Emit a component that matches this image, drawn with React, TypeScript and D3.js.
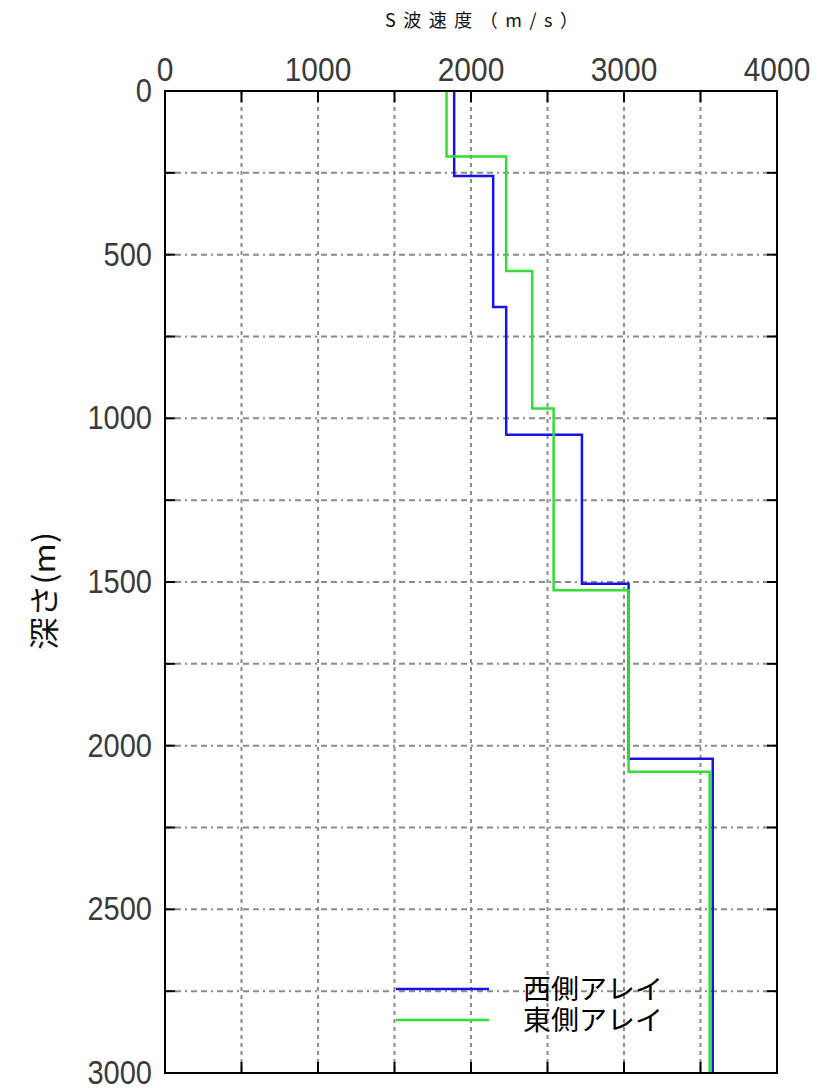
import React from "react";
import * as d3 from "d3";

const westVelocity = [1890, 2145, 2230, 2725, 3030, 3580];
const westDepthBounds = [0, 260, 660, 1050, 1505, 2040, 3000];
const eastVelocity = [1840, 2230, 2400, 2540, 3030, 3560];
const eastDepthBounds = [0, 200, 550, 970, 1525, 2080, 3000];
const xTickLabels = [0, 1000, 2000, 3000, 4000];
const yTickLabels = [0, 500, 1000, 1500, 2000, 2500, 3000];
const seriesNames = ["西側アレイ", "東側アレイ"];

const W = 839, H = 1088;
const L = 165, R = 777, T = 91, B = 1073;

export default function App() {
  const x = d3.scaleLinear().domain([0, 4000]).range([L, R]);
  const y = d3.scaleLinear().domain([0, 3000]).range([T, B]);
  const xGrid = d3.range(500, 4000, 500);
  const yGrid = d3.range(250, 3000, 250);

  const stepPts = (v: number[], b: number[]) => {
    const pts: [number, number][] = [];
    v.forEach((val, i) => {
      pts.push([val, b[i]]);
      pts.push([val, b[i + 1]]);
    });
    return pts;
  };
  const line = d3
    .line<[number, number]>()
    .x((d) => x(d[0]))
    .y((d) => y(d[1]));

  const tickFont = "'Liberation Sans', Arial, sans-serif";
  const cjk = "'Noto Sans CJK JP', sans-serif";

  return (
    <svg
      width={W}
      height={H}
      style={{ position: "absolute", left: 0, top: 0, background: "#fff" }}
    >
      <rect x={0} y={0} width={W} height={H} fill="#fff" />
      {/* grid */}
      {xGrid.map((v) => (
        <line
          key={"gx" + v}
          x1={x(v)}
          x2={x(v)}
          y1={T}
          y2={B}
          stroke="#8a8a8a"
          strokeWidth={2}
          strokeDasharray="4,4"
        />
      ))}
      {yGrid.map((v) => (
        <line
          key={"gy" + v}
          x1={L}
          x2={R}
          y1={y(v)}
          y2={y(v)}
          stroke="#8a8a8a"
          strokeWidth={2}
          strokeDasharray="6,4,6,4,2,4"
        />
      ))}
      {/* ticks */}
      {xGrid.map((v) => (
        <g key={"tx" + v}>
          <line x1={x(v)} x2={x(v)} y1={T} y2={T + 11} stroke="#000" strokeWidth={2} />
          <line x1={x(v)} x2={x(v)} y1={B} y2={B - 11} stroke="#000" strokeWidth={2} />
        </g>
      ))}
      {yGrid.map((v) => (
        <g key={"ty" + v}>
          <line x1={L} x2={L + 10} y1={y(v)} y2={y(v)} stroke="#000" strokeWidth={2} />
          <line x1={R} x2={R - 10} y1={y(v)} y2={y(v)} stroke="#000" strokeWidth={2} />
        </g>
      ))}
      {/* series */}
      <path
        d={line(stepPts(westVelocity, westDepthBounds)) || ""}
        fill="none"
        stroke="#1414e6"
        strokeWidth={2.5}
      />
      <path
        d={line(stepPts(eastVelocity, eastDepthBounds)) || ""}
        fill="none"
        stroke="#33dd33"
        strokeWidth={2.5}
      />
      {/* frame */}
      <rect x={L} y={T} width={R - L} height={B - T} fill="none" stroke="#000" strokeWidth={2} />
      {/* x tick labels */}
      {xTickLabels.map((v) => (
        <text
          key={"xl" + v}
          transform={`translate(${x(v)},81) scale(0.88,1)`}
          textAnchor="middle"
          fontFamily={tickFont}
          fontSize={34}
          fill="#3a3a3a"
        >
          {v}
        </text>
      ))}
      {/* y tick labels */}
      {yTickLabels.map((v) => (
        <text
          key={"yl" + v}
          transform={`translate(152,${y(v) + 11}) scale(0.88,1)`}
          textAnchor="end"
          fontFamily={tickFont}
          fontSize={33}
          fill="#3a3a3a"
        >
          {v}
        </text>
      ))}
      {/* titles */}
      <text
        x={385}
        y={27}
        fontFamily={cjk}
        fontSize={18}
        fill="#111"
        textLength={193}
        lengthAdjust="spacing"
      >
        S波速度（m/s）
      </text>
      <text
        transform={`translate(55,650) rotate(-90)`}
        fontFamily={cjk}
        fontSize={30}
        fill="#111"
        textLength={118}
        lengthAdjust="spacingAndGlyphs"
      >
        深さ(m)
      </text>
      {/* legend */}
      {seriesNames.map((name, i) => (
        <g key={name}>
          <line
            x1={396}
            x2={489}
            y1={989 + i * 31}
            y2={989 + i * 31}
            stroke={i === 0 ? "#1414e6" : "#33dd33"}
            strokeWidth={2.5}
          />
          <text
            x={523}
            y={989 + i * 31 + 10}
            fontFamily={cjk}
            fontSize={27}
            fill="#000"
            textLength={140}
            lengthAdjust="spacingAndGlyphs"
          >
            {name}
          </text>
        </g>
      ))}
    </svg>
  );
}
